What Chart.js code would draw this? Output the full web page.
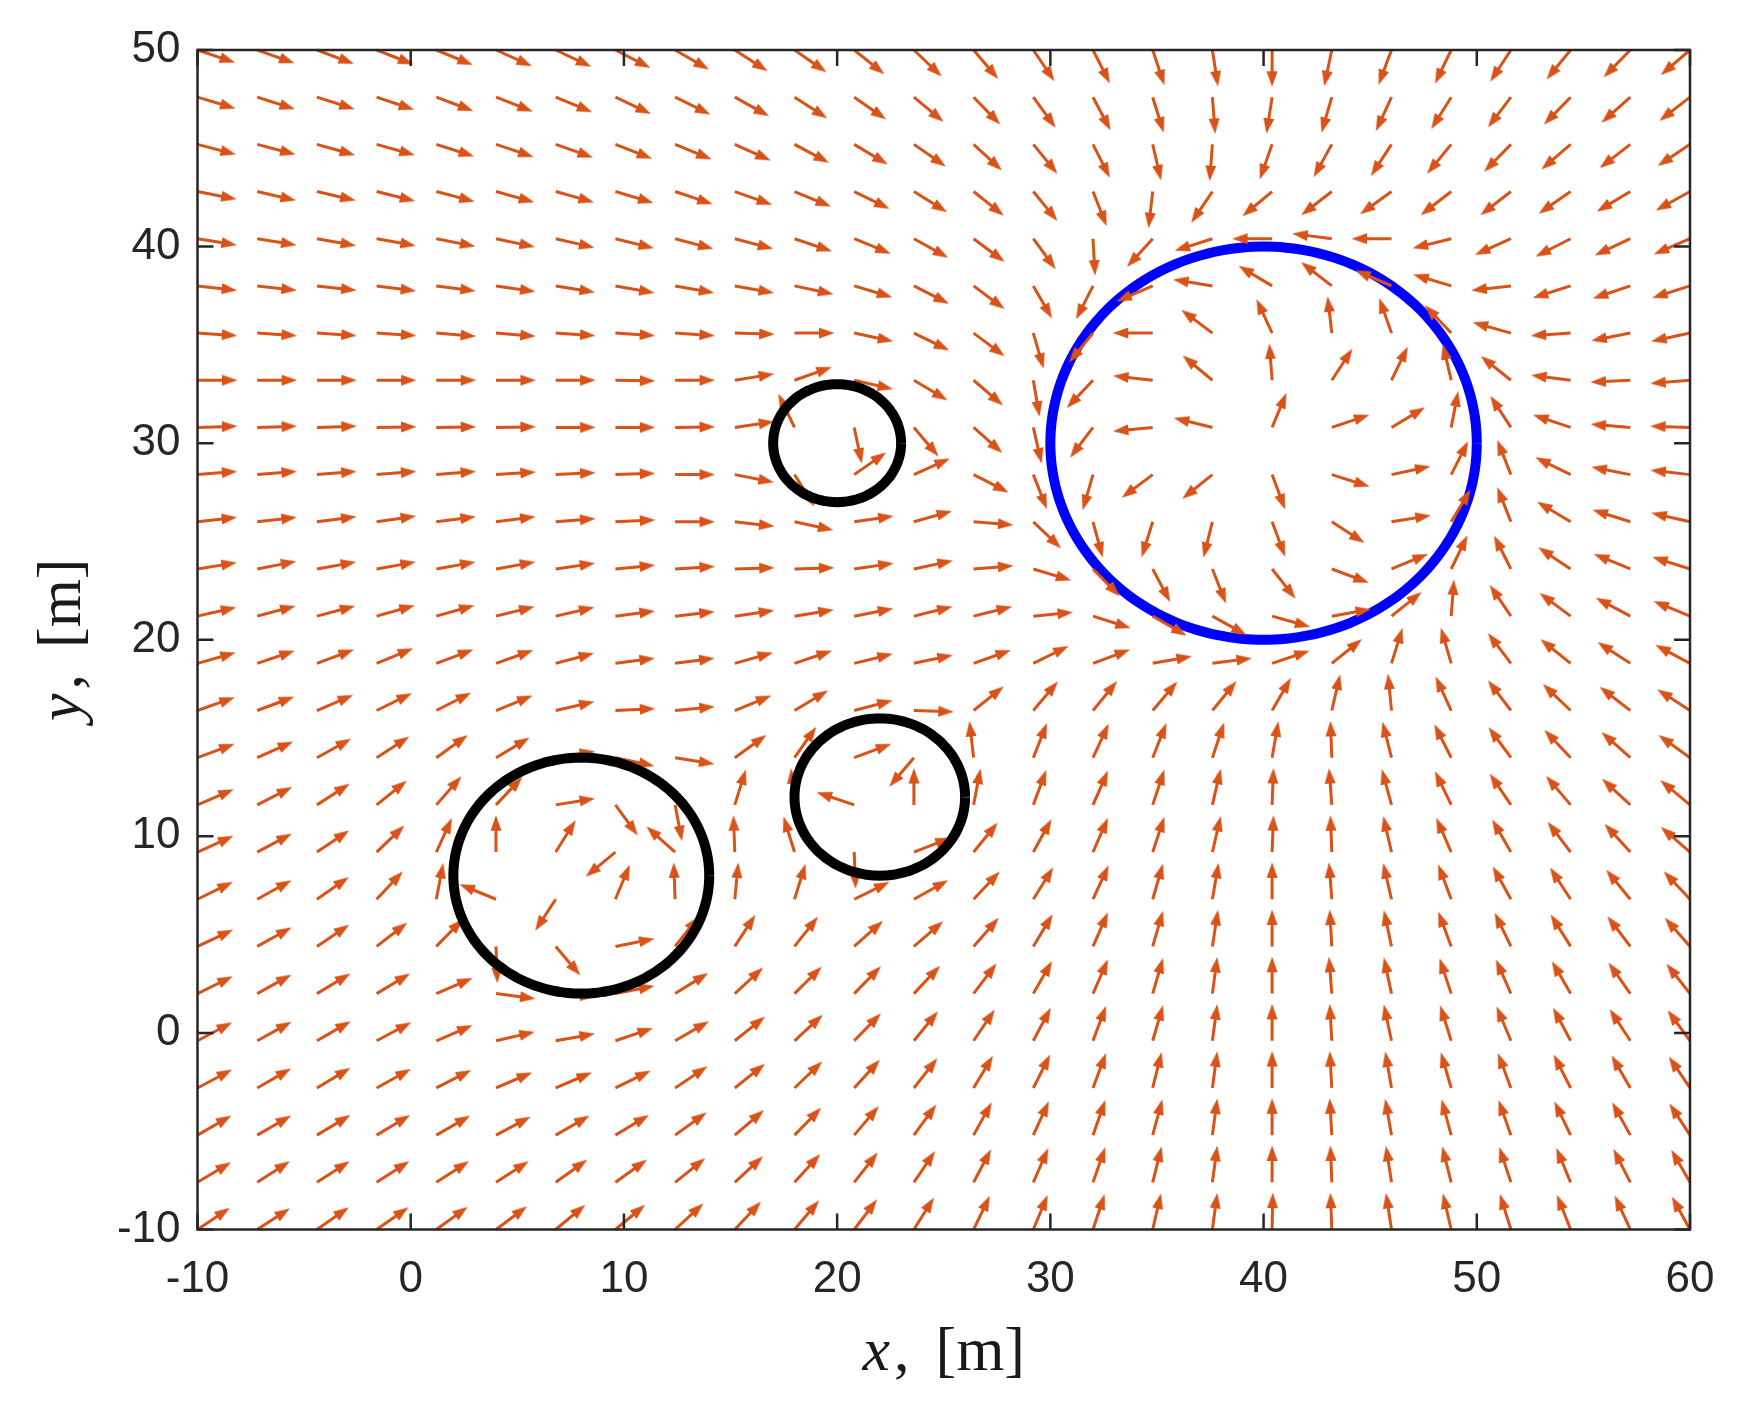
<!DOCTYPE html>
<html>
<head>
<meta charset="utf-8">
<script src="https://cdn.jsdelivr.net/npm/chart.js@4.4.1/dist/chart.umd.min.js"></script>
<style>
  html, body { margin: 0; padding: 0; background: #fff; }
  canvas { display: block; }
</style>
</head>
<body>
<canvas id="field" width="1740" height="1404"></canvas>
<script>
// axes
const xTicks = [-10, 0, 10, 20, 30, 40, 50, 60];
const yTicks = [-10, 0, 10, 20, 30, 40, 50];

// quiver grid (arrow tails)
const colX = [-10, -7.2, -4.4, -1.6, 1.2, 4, 6.8, 9.6, 12.4, 15.2, 18, 20.8, 23.6,
  26.4, 29.2, 32, 34.8, 37.6, 40.4, 43.2, 46, 48.8, 51.6, 54.4, 57.2, 60];
const rowY = [50, 47.6, 45.2, 42.8, 40.4, 38, 35.6, 33.2, 30.8, 28.4, 26, 23.6, 21.2,
  18.8, 16.4, 14, 11.6, 9.2, 6.8, 4.4, 2, -0.4, -2.8, -5.2, -7.6, -10];

// arrow direction in degrees (0 = +x, 90 = +y), one row per rowY
const fieldAngles = [
  [-20, -21, -22, -23, -24, -26, -27, -29, -32, -35, -37, -41, -46, -52, -58, -65, -73, -82, -90, -101, -109, -114, -121, -127, -132, -137],
  [-18, -19, -19, -20, -22, -23, -24, -27, -28, -31, -35, -37, -42, -48, -56, -64, -74, -86, -98, -105, -113, -120, -125, -132, -136, -140],
  [-16, -16, -17, -17, -19, -20, -21, -23, -24, -26, -30, -33, -37, -45, -53, -65, -78, -94, -108, -117, -121, -127, -132, -137, -140, -144],
  [-12, -14, -14, -15, -16, -17, -17, -18, -20, -21, -24, -28, -34, -41, -53, -70, -96, -122, -138, -140, -142, -140, -140, -143, -147, -149],
  [-10, -10, -11, -11, -12, -13, -14, -15, -16, -16, -20, -24, -31, -39, -56, -87, -130, -161, 180, 172, 180, -165, -154, -151, -153, -155],
  [-7, -7, -7, -8, -8, -9, -10, -11, -11, -11, -13, -18, -29, -39, -62, -115, -155, 170, 147, 140, 155, 162, -173, -161, -160, -161],
  [-4, -4, -4, -4, -5, -5, -4, -4, -4, -2, 0, -13, -28, -39, -75, -127, 180, 141, 113, 96, 108, 131, 163, -176, -168, -167],
  [0, 0, 0, 0, 0, 0, 0, -1, 0, 10, 21, -14, -33, -43, -81, -131, 173, 138, 94, 59, 66, 102, 139, 172, -177, -175],
  [2, 2, 2, 1, 1, 1, 0, 0, 1, 9, 114, -79, -52, -44, -78, -125, -174, 165, 69, 20, 33, 80, 121, 160, 175, 178],
  [5, 5, 5, 5, 5, 4, 3, 2, 0, -12, -60, 37, 26, -29, -70, -105, -141, -139, -71, -19, 13, 65, 110, 152, 168, 173],
  [7, 7, 8, 9, 8, 8, 5, 3, 0, -7, -13, 9, 17, -5, -46, -76, -106, -103, -71, -35, 10, 61, 110, 147, 161, 166],
  [10, 12, 11, 11, 11, 11, 9, 6, 4, 2, 2, 9, 13, 5, -18, -48, -64, -70, -54, -22, 24, 66, 115, 144, 156, 161],
  [14, 16, 16, 17, 17, 15, 14, 8, 7, 9, 10, 12, 15, 15, 6, -19, -32, -31, -17, 11, 41, 86, 122, 141, 150, 156],
  [17, 20, 22, 24, 22, 21, 16, 8, 8, 17, 20, 15, 13, 21, 28, 22, 11, 8, 20, 41, 74, 105, 125, 139, 145, 150],
  [21, 22, 25, 28, 29, 24, 14, 3, 6, 24, 33, 16, -2, 41, 52, 53, 52, 53, 62, 78, 95, 113, 125, 134, 140, 145],
  [22, 26, 31, 35, 38, 33, 10, -13, -10, 38, 57, 22, -128, 96, 70, 67, 70, 73, 81, 92, 103, 115, 124, 131, 136, 142],
  [25, 29, 35, 41, 51, 49, 10, -56, -80, 74, 95, 160, 90, 80, 71, 68, 73, 78, 88, 94, 104, 114, 122, 128, 135, 138],
  [26, 30, 36, 46, 67, 90, 60, -138, 136, 92, 106, -88, 23, 53, 63, 68, 73, 78, 88, 92, 102, 112, 118, 125, 130, 137],
  [28, 31, 37, 49, 80, 156, -121, 69, 92, 85, 74, 28, 31, 49, 60, 67, 75, 81, 90, 94, 102, 109, 117, 121, 127, 131],
  [27, 31, 36, 40, 48, -88, -52, 12, 54, 59, 54, 44, 43, 51, 61, 68, 75, 82, 90, 93, 101, 109, 114, 120, 125, 129],
  [28, 31, 33, 33, 25, -8, -5, 12, 34, 45, 47, 48, 49, 55, 62, 68, 75, 83, 90, 94, 101, 107, 112, 118, 123, 126],
  [30, 31, 32, 30, 25, 14, 11, 20, 32, 41, 45, 48, 53, 58, 64, 71, 75, 83, 90, 93, 101, 106, 111, 116, 121, 124],
  [30, 32, 33, 31, 29, 25, 25, 28, 36, 41, 46, 50, 54, 61, 65, 71, 77, 83, 90, 93, 99, 105, 109, 115, 118, 122],
  [32, 32, 33, 33, 32, 30, 32, 33, 38, 43, 48, 52, 56, 63, 67, 72, 76, 83, 90, 93, 99, 104, 108, 114, 117, 121],
  [33, 35, 35, 35, 35, 35, 38, 38, 41, 45, 50, 54, 58, 64, 68, 72, 77, 83, 90, 92, 98, 103, 107, 111, 115, 118],
  [36, 35, 37, 37, 38, 39, 42, 42, 45, 49, 52, 55, 60, 66, 69, 73, 78, 83, 89, 92, 98, 102, 106, 110, 113, 117]
];
const arrowLen = 1.85;

// target circle (blue) and obstacles (black)
const goalX = 40, goalY = 30, goalR = 10;
const obstacleX = [20, 22, 8];
const obstacleY = [30, 12, 8];
const obstacleR = [3, 4, 6];

const ARROW = '#D95319';
const AXIS = '#262626';

function circlePoints(cx, cy, r) {
  const pts = [];
  for (let d = 0; d <= 360; d += 3) {
    const a = d * Math.PI / 180;
    pts.push({ x: cx + r * Math.cos(a), y: cy + r * Math.sin(a) });
  }
  return pts;
}

// shafts as one broken line, heads as rotated markers at the tips
const shafts = [], heads = [];
rowY.forEach((y, j) => {
  colX.forEach((x, i) => {
    const a = fieldAngles[j][i] * Math.PI / 180;
    const c = Math.cos(a), s = Math.sin(a);
    shafts.push({ x, y }, { x: x + (arrowLen - 0.35) * c, y: y + (arrowLen - 0.35) * s }, { x, y: null });
    heads.push({ x: x + arrowLen * c, y: y + arrowLen * s, tx: x, ty: y });
  });
});

// arrow head marker, tip at the canvas centre pointing up
const headImg = document.createElement('canvas');
headImg.width = 36; headImg.height = 36;
const hc = headImg.getContext('2d');
hc.fillStyle = ARROW;
hc.beginPath();
hc.moveTo(18, 17.5);
hc.lineTo(23.5, 33);
hc.lineTo(12.5, 33);
hc.closePath();
hc.fill();

// a small tension keeps Chart.js off its fast path, which spikes at vertical tangents
const datasets = [
  {
    type: 'line', data: circlePoints(goalX, goalY, goalR),
    borderColor: '#0000FF', borderWidth: 10, pointRadius: 0, tension: 0.3, order: 4, clip: false
  },
  {
    type: 'line', data: shafts, borderColor: ARROW, borderWidth: 3, pointRadius: 0,
    spanGaps: false, tension: 0, borderDash: [2000, 1], order: 3, clip: false
  },
  {
    type: 'scatter', data: heads, pointStyle: headImg, pointRadius: 8, order: 2, clip: false,
    rotation: ctx => {
      const p = ctx.raw;
      if (!p) return 0;
      const sx = ctx.chart.scales.x, sy = ctx.chart.scales.y;
      const dx = sx.getPixelForValue(p.x) - sx.getPixelForValue(p.tx);
      const dy = sy.getPixelForValue(p.y) - sy.getPixelForValue(p.ty);
      return Math.atan2(dy, dx) * 180 / Math.PI + 90;
    }
  }
];
obstacleX.forEach((cx, k) => {
  datasets.push({
    type: 'line', data: circlePoints(cx, obstacleY[k], obstacleR[k]),
    borderColor: '#000000', borderWidth: 10, pointRadius: 0, tension: 0.3, order: 1, clip: false
  });
});

function drawTitle(ctx, name, unit, cx, cy) {
  const italic = 'italic 62px "Liberation Serif"';
  const upright = '62px "Liberation Serif"';
  ctx.font = italic;
  const wName = ctx.measureText(name).width;
  ctx.font = upright;
  const wComma = ctx.measureText(',').width;
  const wUnit = ctx.measureText(unit).width;
  const gap = 26;
  const total = wName + 4 + wComma + gap + wUnit;
  let x = cx - total / 2;
  ctx.textAlign = 'left';
  ctx.font = italic;
  ctx.fillText(name, x, cy);
  x += wName + 4;
  ctx.font = upright;
  ctx.fillText(',', x, cy);
  x += wComma + gap;
  ctx.fillText(unit, x, cy);
}

const framePlugin = {
  id: 'frame',
  afterDraw(chart) {
    const { ctx, chartArea: a, scales } = chart;
    const tl = 16;
    ctx.save();
    ctx.strokeStyle = AXIS;
    ctx.lineWidth = 2.5;
    ctx.beginPath();
    xTicks.forEach(v => {
      const px = scales.x.getPixelForValue(v);
      ctx.moveTo(px, a.bottom); ctx.lineTo(px, a.bottom - tl);
      ctx.moveTo(px, a.top); ctx.lineTo(px, a.top + tl);
    });
    yTicks.forEach(v => {
      const py = scales.y.getPixelForValue(v);
      ctx.moveTo(a.left, py); ctx.lineTo(a.left + tl, py);
      ctx.moveTo(a.right, py); ctx.lineTo(a.right - tl, py);
    });
    ctx.stroke();
    ctx.strokeRect(a.left, a.top, a.right - a.left, a.bottom - a.top);

    ctx.fillStyle = '#1a1a1a';
    ctx.textBaseline = 'alphabetic';
    drawTitle(ctx, 'x', '[m]', (a.left + a.right) / 2, 1370);
    ctx.translate(80, (a.top + a.bottom) / 2);
    ctx.rotate(-Math.PI / 2);
    drawTitle(ctx, 'y', '[m]', 0, 0);
    ctx.restore();
  }
};

const tickFont = { family: '"Liberation Sans", Arial, sans-serif', size: 44 };

new Chart(document.getElementById('field'), {
  type: 'scatter',
  data: { datasets },
  options: {
    responsive: false,
    animation: false,
    devicePixelRatio: 1,
    events: [],
    layout: { padding: { top: 50, right: 50, left: 0, bottom: 0 } },
    plugins: { legend: { display: false }, tooltip: { enabled: false } },
    scales: {
      x: {
        type: 'linear', min: -10, max: 60,
        afterBuildTicks: s => { s.ticks = xTicks.map(v => ({ value: v })); },
        afterFit: s => { s.height = 174.5; },
        grid: { display: false, drawTicks: false },
        border: { display: false },
        ticks: { font: tickFont, color: AXIS, padding: 24, maxRotation: 0 }
      },
      y: {
        type: 'linear', min: -10, max: 50,
        afterBuildTicks: s => { s.ticks = yTicks.map(v => ({ value: v })); },
        afterFit: s => { s.width = 197.5; },
        grid: { display: false, drawTicks: false },
        border: { display: false },
        ticks: { font: tickFont, color: AXIS, padding: 17 }
      }
    }
  },
  plugins: [framePlugin]
});
</script>
</body>
</html>
